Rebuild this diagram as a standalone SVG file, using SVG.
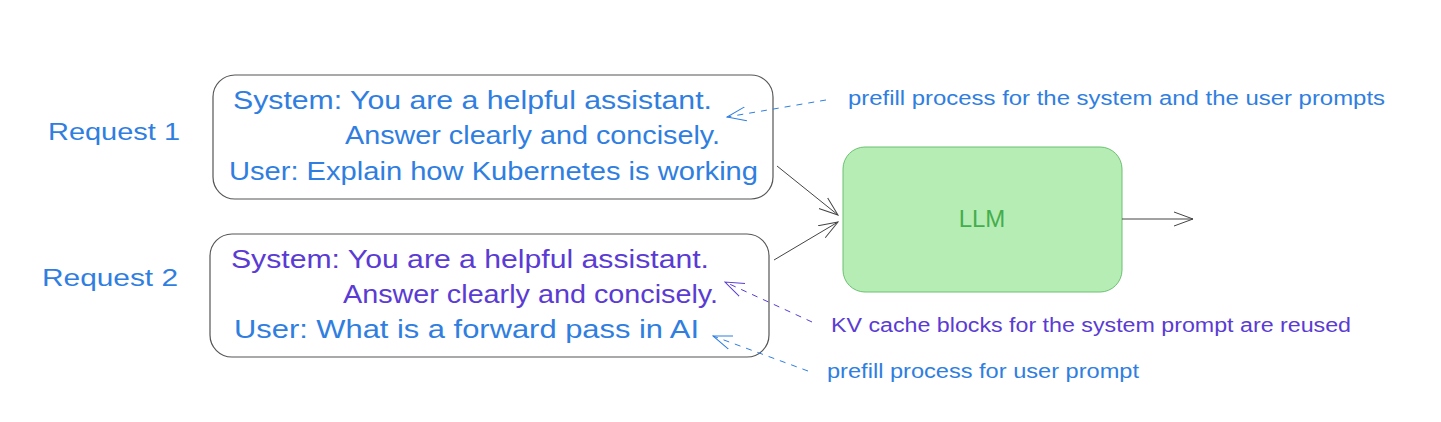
<svg xmlns="http://www.w3.org/2000/svg" width="1441" height="422" viewBox="0 0 1441 422">
<style>
text{font-family:"Liberation Sans","DejaVu Sans",sans-serif}
.blue{fill:#2f7ee0}
.purple{fill:#5a3bd3}
.big{font-size:25px}
.note{font-size:20px}
.box{fill:#fff;stroke:#555;stroke-width:1.2}
.conn{stroke:#444;stroke-width:1;fill:none}
.dash{stroke-width:1;fill:none;stroke-dasharray:6 6}
</style>
<defs>
<marker id="ah" viewBox="0 0 20 20" refX="19" refY="10" markerWidth="20" markerHeight="20" markerUnits="userSpaceOnUse" orient="auto">
<path d="M0 3 L19 10 L0 17" fill="none" stroke="#444" stroke-width="1"/>
</marker>
<marker id="ahb" viewBox="0 0 20 20" refX="19" refY="10" markerWidth="20" markerHeight="20" markerUnits="userSpaceOnUse" orient="auto">
<path d="M0 3 L19 10 L0 17" fill="none" stroke="#2f7ee0" stroke-width="1"/>
</marker>
<marker id="ahp" viewBox="0 0 20 20" refX="19" refY="10" markerWidth="20" markerHeight="20" markerUnits="userSpaceOnUse" orient="auto">
<path d="M0 3 L19 10 L0 17" fill="none" stroke="#5a3bd3" stroke-width="1"/>
</marker>
</defs>
<rect width="1441" height="422" fill="#fff"/>
<g id="label-request1"><text class="blue" x="48" y="140" font-size="24" textLength="132" lengthAdjust="spacingAndGlyphs">Request 1</text></g>
<g id="label-request2"><text class="blue" x="42" y="286" font-size="24" textLength="136" lengthAdjust="spacingAndGlyphs">Request 2</text></g>
<g id="request1">
<rect class="box" x="213" y="75" width="560" height="124" rx="22"/>
<text class="blue big" x="233" y="109" textLength="479" lengthAdjust="spacingAndGlyphs">System: You are a helpful assistant.</text>
<text class="blue big" x="345" y="144" textLength="375" lengthAdjust="spacingAndGlyphs">Answer clearly and concisely.</text>
<text class="blue big" x="229" y="180" textLength="529" lengthAdjust="spacingAndGlyphs">User: Explain how Kubernetes is working</text>
</g>
<g id="request2">
<rect class="box" x="210" y="234" width="559" height="123" rx="22"/>
<text class="purple big" x="231" y="268" textLength="478" lengthAdjust="spacingAndGlyphs">System: You are a helpful assistant.</text>
<text class="purple big" x="343" y="303" textLength="375" lengthAdjust="spacingAndGlyphs">Answer clearly and concisely.</text>
<text class="blue big" x="234" y="338" textLength="465" lengthAdjust="spacingAndGlyphs">User: What is a forward pass in AI</text>
</g>
<g id="llm">
<rect x="843" y="147" width="279" height="145" rx="22" fill="#b5edb5" stroke="#6cc070" stroke-width="1"/>
<text x="982" y="227" font-size="24" fill="#46ad4e" text-anchor="middle">LLM</text>
</g>
<g id="note-prefill-both"><text class="blue note" x="848" y="105" textLength="537" lengthAdjust="spacingAndGlyphs">prefill process for the system and the user prompts</text></g>
<g id="note-kv"><text class="purple note" x="831" y="332" textLength="520" lengthAdjust="spacingAndGlyphs">KV cache blocks for the system prompt are reused</text></g>
<g id="note-prefill-user"><text class="blue note" x="827" y="378" textLength="312" lengthAdjust="spacingAndGlyphs">prefill process for user prompt</text></g>
<g id="connectors">
<path class="conn" d="M777 166 L838 215" marker-end="url(#ah)"/>
<path class="conn" d="M774 260 L838 222" marker-end="url(#ah)"/>
<path class="conn" d="M1122 219 L1193 219" marker-end="url(#ah)"/>
<path class="dash" stroke="#2f7ee0" d="M826 100 L727 117" marker-end="url(#ahb)"/>
<path class="dash" stroke="#5a3bd3" d="M812 322 L725 282" marker-end="url(#ahp)"/>
<path class="dash" stroke="#2f7ee0" d="M808 371 L713 336" marker-end="url(#ahb)"/>
</g>
</svg>
